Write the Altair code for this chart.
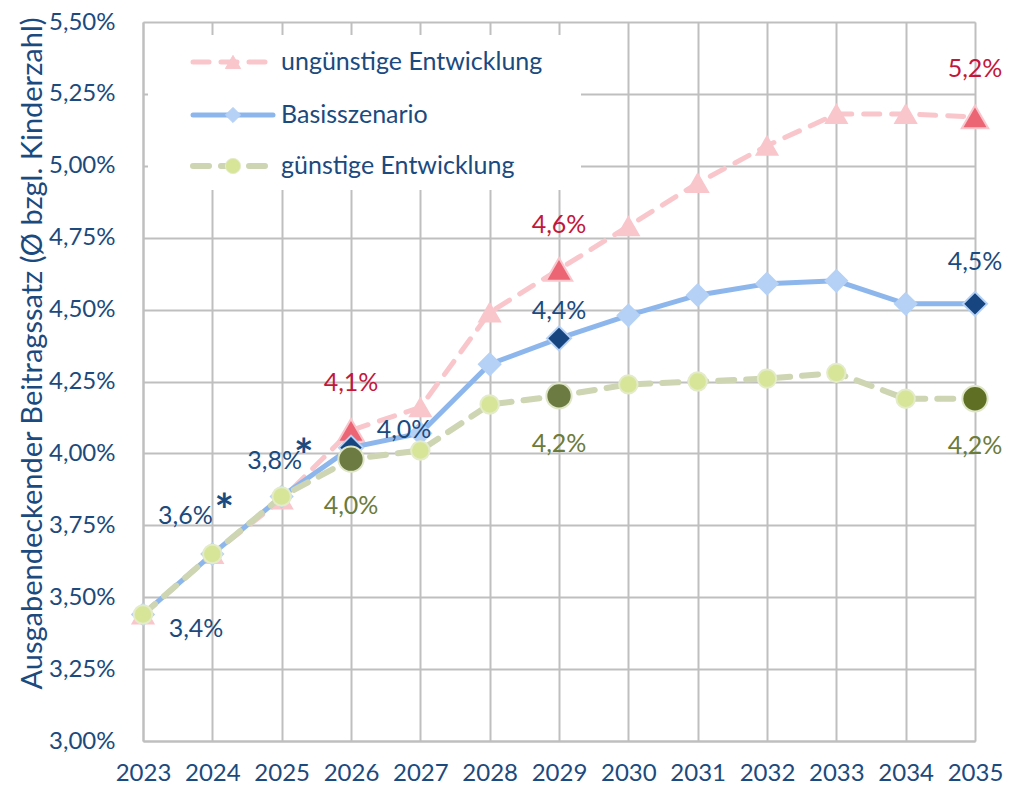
import altair as alt
import pandas as pd

years = list(range(2023, 2036))
unguenstig = [3.44, 3.65, 3.84, 4.08, 4.16, 4.49, 4.64, 4.79, 4.94, 5.07, 5.18, 5.18, 5.17]
basis = [3.44, 3.65, 3.85, 4.02, 4.07, 4.31, 4.40, 4.48, 4.55, 4.59, 4.60, 4.52, 4.52]
guenstig = [3.44, 3.65, 3.85, 3.98, 4.01, 4.17, 4.20, 4.24, 4.25, 4.26, 4.28, 4.19, 4.19]
highlight_years = [2026, 2029, 2035]
series_names = ["ungünstige Entwicklung", "Basisszenario", "günstige Entwicklung"]
y_ticks = [3.0, 3.25, 3.5, 3.75, 4.0, 4.25, 4.5, 4.75, 5.0, 5.25, 5.5]
y_title = "Ausgabendeckender Beitragssatz (Ø bzgl. Kinderzahl)"

label_texts = ["3,4%", "3,6%", "3,8%", "4,1%", "4,0%", "4,0%", "4,6%", "4,4%", "4,2%", "5,2%", "4,5%", "4,2%"]
label_years = [2023, 2024, 2025, 2026, 2026, 2026, 2029, 2029, 2029, 2035, 2035, 2035]
label_series = [1, 1, 1, 0, 1, 2, 0, 1, 2, 0, 1, 2]
star_years = [2024, 2025]

FONT = "Lato"
DARK_BLUE = "#1b4a7e"
W, H = 832, 719

x_scale = alt.Scale(domain=[2023, 2035], nice=False, zero=False)
y_scale = alt.Scale(domain=[3.0, 5.5], nice=False, zero=False)

all_series = [unguenstig, basis, guenstig]

styles = [
    dict(line="#f9c6cc", dash=[16, 12], lw=5, shape="triangle-up", small_fill="#f9c6cc", small_stroke="#f9c6cc",
         small_size=430, big_stroke="#f9c6cc", big_size=700, lab="#c3173a",
         big_fills=["#ec6575", "#ec6575", "#ec6575"]),
    dict(line="#8db7ec", dash=None, lw=5, shape="diamond", small_fill="#b5d1f5", small_stroke="#b5d1f5",
         small_size=460, big_stroke="#b5d1f5", big_size=580, lab=DARK_BLUE,
         big_fills=["#17457f", "#17457f", "#17457f"]),
    dict(line="#cdd5b2", dash=[16, 12], lw=6, shape="circle", small_fill="#d6e597", small_stroke="#e4ebc8",
         small_size=340, big_stroke="#dfe6c8", big_size=640, lab="#6b7b3a",
         big_fills=["#6b7b42", "#6b7b42", "#5f7024"]),
]

frames = []
for name, vals in zip(series_names, all_series):
    frames.append(pd.DataFrame({"year": years, "value": vals, "series": name}))

x_enc = alt.X("year:Q", scale=x_scale, title=None,
              axis=alt.Axis(values=years, format="d", grid=True, ticks=False,
                            labelPadding=20, labelFontSize=24, labelFont=FONT,
                            labelColor=DARK_BLUE, domainColor="#bfbfbf", domainWidth=2,
                            gridColor="#bfbfbf", gridWidth=2, labelFlush=False))
y_enc = alt.Y("value:Q", scale=y_scale, title=y_title,
              axis=alt.Axis(values=y_ticks, grid=True, ticks=False,
                            labelExpr="replace(format(datum.value, '.2f'), '.', ',') + '%'",
                            labelPadding=28, labelFontSize=24, labelFont=FONT,
                            labelColor=DARK_BLUE, domainColor="#bfbfbf", domainWidth=2,
                            gridColor="#bfbfbf", gridWidth=2,
                            titleFont=FONT, titleFontSize=29, titleFontWeight="normal",
                            titleColor=DARK_BLUE, titlePadding=1, titleY=331))

layers = []

# legend background
one = pd.DataFrame({"a": [0]})
layers.append(alt.Chart(one).mark_rect(fill="white").encode(
    x=alt.value(5), x2=alt.value(438), y=alt.value(13), y2=alt.value(168)))

for i, (df, st) in enumerate(zip(frames, styles)):
    base = alt.Chart(df).encode(x=x_enc, y=y_enc)
    lkw = dict(color=st["line"], strokeWidth=st["lw"], strokeCap="round")
    if st["dash"]:
        lkw["strokeDash"] = st["dash"]
    layers.append(base.mark_line(**lkw))
    small = df[~df["year"].isin(highlight_years)]
    layers.append(alt.Chart(small).mark_point(shape=st["shape"], filled=True, fill=st["small_fill"],
                                              stroke=st["small_stroke"], strokeWidth=2, opacity=1,
                                              size=st["small_size"]).encode(x=x_enc, y=y_enc))
    for hy, bf in zip(highlight_years, st["big_fills"]):
        big = df[df["year"] == hy]
        layers.append(alt.Chart(big).mark_point(shape=st["shape"], filled=True, fill=bf,
                                                stroke=st["big_stroke"], strokeWidth=2, opacity=1,
                                                size=st["big_size"]).encode(x=x_enc, y=y_enc))

# data labels
offsets = [(53, 15), (-27, -38), (-7, -36), (0, -47), (53, -18), (0, 47),
           (0, -44), (0, -27), (0, 48), (0, -48), (0, -42), (0, 47)]
for t, yr, s, (dx, dy) in zip(label_texts, label_years, label_series, offsets):
    vals = all_series[s]
    v = vals[years.index(yr)]
    d = pd.DataFrame({"year": [yr], "value": [v], "t": [t]})
    layers.append(alt.Chart(d).mark_text(font=FONT, fontSize=25, color=styles[s]["lab"],
                                         dx=dx, dy=dy, baseline="middle", align="center").encode(
        x=alt.X("year:Q", scale=x_scale), y=alt.Y("value:Q", scale=y_scale), text="t:N"))

star_offsets = [(12, -41), (22, -39)]
for yr, (dx, dy) in zip(star_years, star_offsets):
    d = pd.DataFrame({"year": [yr], "value": [basis[years.index(yr)]], "t": ["*"]})
    layers.append(alt.Chart(d).mark_text(font=FONT, fontSize=46, fontWeight="bold", color=DARK_BLUE,
                                         dx=dx, dy=dy, baseline="middle", align="center").encode(
        x=alt.X("year:Q", scale=x_scale), y=alt.Y("value:Q", scale=y_scale), text="t:N"))

# legend entries
leg_y = [40, 93, 144]
for name, st, ly in zip(series_names, styles, leg_y):
    d = pd.DataFrame({"name": [name]})
    lkw = dict(color=st["line"], strokeWidth=st["lw"], strokeCap="round")
    if st["dash"]:
        lkw["strokeDash"] = st["dash"]
    layers.append(alt.Chart(d).mark_rule(**lkw).encode(
        x=alt.value(50), x2=alt.value(130), y=alt.value(ly)))
    layers.append(alt.Chart(d).mark_point(shape=st["shape"], filled=True, fill=st["small_fill"],
                                          stroke=st["small_stroke"], strokeWidth=1, opacity=1,
                                          size=230).encode(x=alt.value(90), y=alt.value(ly)))
    layers.append(alt.Chart(d).mark_text(font=FONT, fontSize=25, color=DARK_BLUE, align="left",
                                         baseline="middle").encode(
        x=alt.value(138), y=alt.value(ly), text="name:N"))

chart = alt.layer(*layers).properties(width=W, height=H).configure_view(stroke=None).configure(
    padding={"left": 10, "top": 2, "right": 5, "bottom": 0})

chart.save("out.html", embed_options={"renderer": "svg", "actions": False})
